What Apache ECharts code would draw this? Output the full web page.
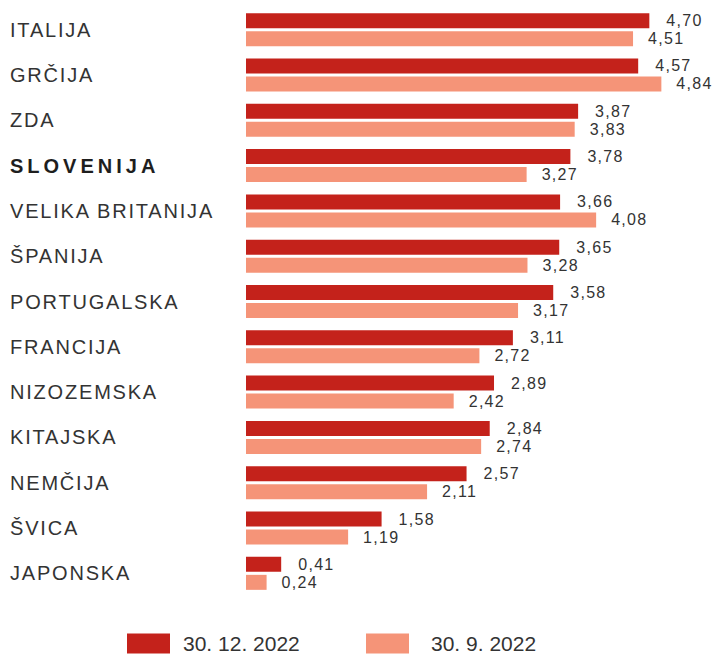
<!DOCTYPE html>
<html>
<head>
<meta charset="utf-8">
<script src="https://cdn.jsdelivr.net/npm/echarts@6/dist/echarts.min.js"></script>
<style>
    html, body { margin: 0; padding: 0; background: #fff; }
    #main { width: 718px; height: 654px; }
    /* razmik med črkami kot v izvirniku */
    #main text { letter-spacing: 1.8px; }
    #main text[style*="16px"] { letter-spacing: 1.3px; }
    #main text[style*="bold"] { letter-spacing: 4px; }
    #main text[style*="21px"] { letter-spacing: 0; }
</style>
</head>
<body>
<div id="main"></div>
<script>
    // države
    var drzave = ['ITALIJA', 'GRČIJA', 'ZDA', 'SLOVENIJA', 'VELIKA BRITANIJA', 'ŠPANIJA',
        'PORTUGALSKA', 'FRANCIJA', 'NIZOZEMSKA', 'KITAJSKA', 'NEMČIJA', 'ŠVICA', 'JAPONSKA'];
    var dec2022 = [4.70, 4.57, 3.87, 3.78, 3.66, 3.65, 3.58, 3.11, 2.89, 2.84, 2.57, 1.58, 0.41];
    var sep2022 = [4.51, 4.84, 3.83, 3.27, 4.08, 3.28, 3.17, 2.72, 2.42, 2.74, 2.11, 1.19, 0.24];
    var imeSerij = ['30. 12. 2022', '30. 9. 2022'];

    var font = '"Liberation Sans", Arial, sans-serif';
    var myChart = echarts.init(document.getElementById('main'), null, { renderer: 'svg' });

    // oznaka vrednosti z decimalno vejico
    function vejica(p) {
        return p.value.toFixed(2).replace('.', ',');
    }

    function legenda(ime, levo, odmik) {
        return {
            top: 633,
            left: levo,
            padding: 0,
            itemWidth: 43,
            itemHeight: 20,
            icon: 'rect',
            textStyle: {
                fontFamily: font, fontSize: 21, lineHeight: 19, color: '#333',
                padding: [0, 0, 0, odmik]
            },
            data: [ime]
        };
    }

    var option = {
        animation: false,
        grid: { left: 246, right: 0, top: 7, bottom: 58, containLabel: false },
        legend: [legenda(imeSerij[0], 127, 8), legenda(imeSerij[1], 366, 17)],
        xAxis: {
            type: 'value',
            min: 0,
            max: 5.5,
            show: false
        },
        yAxis: {
            type: 'category',
            inverse: true,
            data: drzave,
            axisLine: { show: false },
            axisTick: { show: false },
            axisLabel: {
                align: 'left',
                margin: 236,
                fontFamily: font,
                fontSize: 20,
                color: '#333',
                formatter: function (v) {
                    return v === 'SLOVENIJA' ? '{b|' + v + '}' : v;
                },
                rich: {
                    b: { fontFamily: font, fontSize: 20, fontWeight: 'bold', color: '#1e1e1e' }
                }
            }
        },
        series: [{
            name: imeSerij[0],
            type: 'bar',
            data: dec2022,
            barWidth: 15,
            barGap: '20%',
            itemStyle: { color: '#C4221B' },
            label: {
                show: true, position: 'right', distance: 17,
                fontFamily: font, fontSize: 16, color: '#333', formatter: vejica
            }
        }, {
            name: imeSerij[1],
            type: 'bar',
            data: sep2022,
            barWidth: 15,
            itemStyle: { color: '#F59478' },
            label: {
                show: true, position: 'right', distance: 15,
                fontFamily: font, fontSize: 16, color: '#333', formatter: vejica
            }
        }]
    };
    myChart.setOption(option);
</script>
</body>
</html>
